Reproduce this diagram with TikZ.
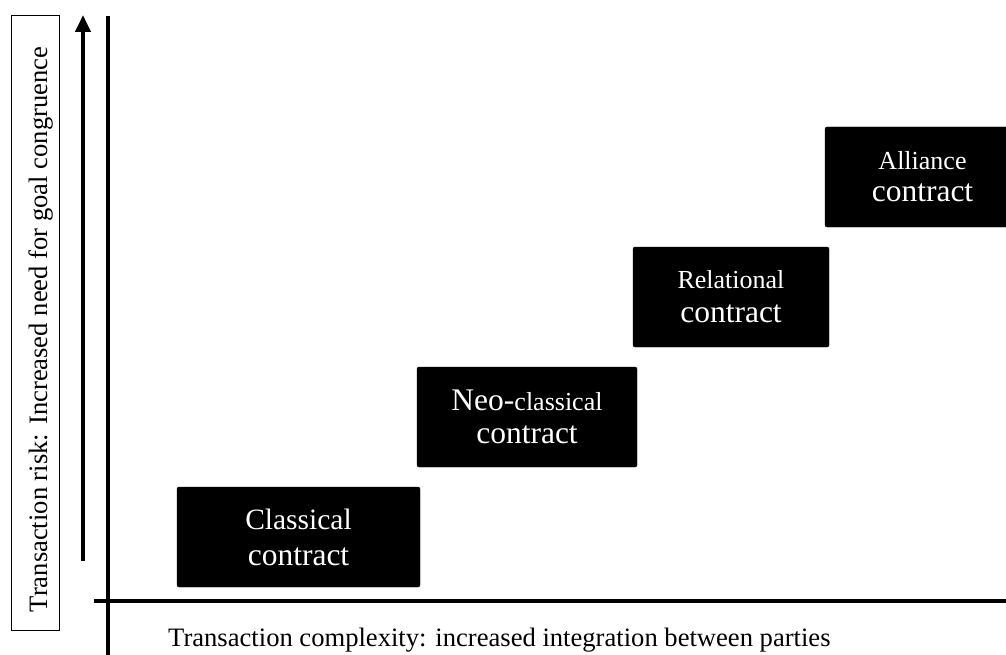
\documentclass[tikz,border=0pt]{standalone}
\usepackage{fontspec}
\setmainfont{Liberation Serif}
\usetikzlibrary{arrows.meta}

\tikzset{
  contractbox/.style={fill=black, draw=black, rounded corners=2pt, text=white,
    align=center, inner sep=0pt, minimum height=100pt},
  axisline/.style={line width=4pt},
  labeltext/.style={font=\fontsize{26.6}{30}\selectfont, inner sep=0pt},
}

\begin{document}
\begin{tikzpicture}[x=1pt, y=-1pt]
  \useasboundingbox (0,0) rectangle (1006,655);
  \clip (0,0) rectangle (1006,655);

  % axes
  \coordinate (ytop) at (108,16);
  \coordinate (ybot) at (108,655);
  \coordinate (xleft) at (94,601);
  \coordinate (xright) at (1006,601);
  \draw[axisline] (ytop) -- (ybot);
  \draw[axisline] (xleft) -- (xright);

  % rising-risk arrow
  \coordinate (arrowfoot) at (83,561);
  \coordinate (arrowtip) at (83,15);
  \draw[line width=4pt, -{Triangle[length=17pt,width=15pt]}] (arrowfoot) -- (arrowtip);

  % vertical axis label in a frame
  \node[draw=black, line width=0.8pt, minimum width=48pt, minimum height=615pt,
        inner sep=0pt] (yframe) at (35,322.5) {};
  \node[labeltext, rotate=90, anchor=base] (ylabel) at (47,329.5)
    {Transaction risk: Increased need for goal congruence};

  % horizontal axis label
  \node[labeltext, anchor=base west] (xlabel) at (168,646)
    {Transaction complexity: increased integration between parties};

  % contract types
  \node[contractbox, minimum width=243pt, font=\fontsize{31.5}{36}\selectfont]
    (classical) at (298.5,537) {{\fontsize{29.5}{36}\selectfont Classical}\\contract};
  \node[contractbox, minimum width=220pt, font=\fontsize{31.5}{33}\selectfont]
    (neo) at (527,417) {Neo-{\fontsize{26}{33}\selectfont classical}\\contract};
  \node[contractbox, minimum width=196pt, font=\fontsize{31.5}{34}\selectfont]
    (relational) at (731,297) {{\fontsize{26}{34}\selectfont Relational}\\contract};
  \node[contractbox, minimum width=195pt, font=\fontsize{31.5}{32}\selectfont]
    (alliance) at (922.5,177) {{\fontsize{26}{32}\selectfont Alliance}\\contract};
\end{tikzpicture}
\end{document}
